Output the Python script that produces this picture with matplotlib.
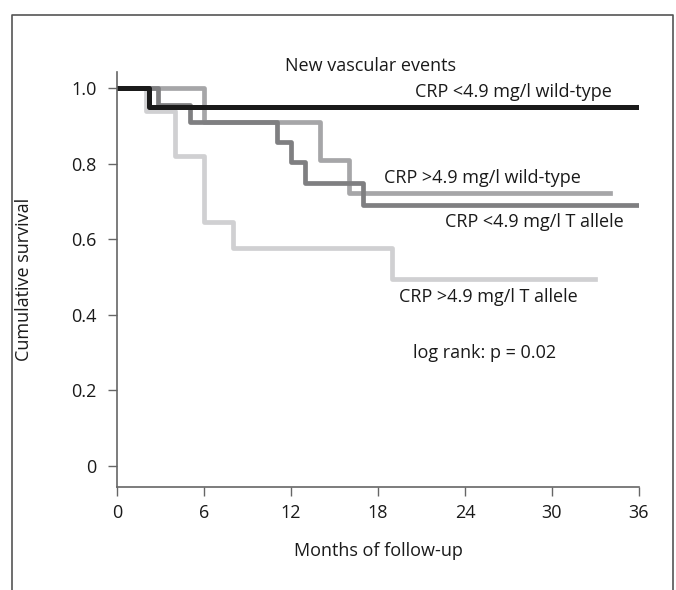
import matplotlib.pyplot as plt
from matplotlib.lines import Line2D

plt.rcParams['font.family'] = ['Open Sans', 'DejaVu Sans']

# Kaplan-Meier step data: time of each step (months) and survival after it
wt_low_t = [0, 2.2, 36]
wt_low_s = [1.0, 0.95, 0.95]

t_low_t = [0, 2.8, 5, 11, 12, 13, 17, 36]
t_low_s = [1.0, 0.955, 0.91, 0.857, 0.804, 0.75, 0.69, 0.69]

wt_high_t = [0, 6, 14, 16, 34]
wt_high_s = [1.0, 0.91, 0.81, 0.722, 0.722]

t_high_t = [0, 2, 4, 6, 8, 19, 33]
t_high_s = [1.0, 0.94, 0.82, 0.645, 0.578, 0.495, 0.495]

x_ticks = [0, 6, 12, 18, 24, 30, 36]
y_ticks = [0, 0.2, 0.4, 0.6, 0.8, 1.0]
y_tick_labels = ['0', '0.2', '0.4', '0.6', '0.8', '1.0']

fig = plt.figure(figsize=(6.76, 5.90), dpi=100)
ax = fig.add_axes([117 / 676, 1 - 487 / 590, (639 - 117) / 676, (487 - 72) / 590])

ax.step(t_high_t, t_high_s, where='post', color='#d0d0d2', lw=3.4)
ax.step(wt_high_t, wt_high_s, where='post', color='#a6a6a8', lw=3.4)
ax.step(t_low_t, t_low_s, where='post', color='#7f7f81', lw=3.4)
ax.step(wt_low_t, wt_low_s, where='post', color='#1a1a1a', lw=3.6)

ax.set_xlim(0, 36)
ax.set_ylim(-0.056, 1.043)
ax.set_xticks(x_ticks)
ax.set_yticks(y_ticks)
ax.set_yticklabels(y_tick_labels)
ax.tick_params(direction='out', length=6.5, width=1, color='#666666',
               labelsize=13, labelcolor='#1a1a1a')
ax.tick_params(axis='x', pad=6)
ax.tick_params(axis='y', pad=8)
for side in ['top', 'right']:
    ax.spines[side].set_visible(False)
for side in ['left', 'bottom']:
    ax.spines[side].set_color('#666666')
    ax.spines[side].set_linewidth(1.2)

ax.set_xlabel('Months of follow-up', fontsize=13, color='#1a1a1a', labelpad=14)
ax.set_ylabel('Cumulative survival', fontsize=13, color='#1a1a1a')
ax.yaxis.set_label_coords(-0.16, 0.5)

txt = dict(fontsize=13, color='#1a1a1a', va='center')
ax.text(17.45, 1.06, 'New vascular events', ha='center', **txt)
ax.text(20.55, 0.99, 'CRP <4.9 mg/l wild-type', ha='left', **txt)
ax.text(18.4, 0.763, 'CRP >4.9 mg/l wild-type', ha='left', **txt)
ax.text(22.6, 0.645, 'CRP <4.9 mg/l T allele', ha='left', **txt)
ax.text(19.45, 0.448, 'CRP >4.9 mg/l T allele', ha='left', **txt)
ax.text(20.4, 0.30, 'log rank: p = 0.02', ha='left', **txt)

# open frame around the panel (no bottom edge)
fx = [12 / 676, 12 / 676, 673 / 676, 673 / 676]
fy = [0, 1 - 15 / 590, 1 - 15 / 590, 0]
fig.add_artist(Line2D(fx, fy, transform=fig.transFigure, color='#555555', lw=1.2))

fig.savefig('out.png', dpi=100)
